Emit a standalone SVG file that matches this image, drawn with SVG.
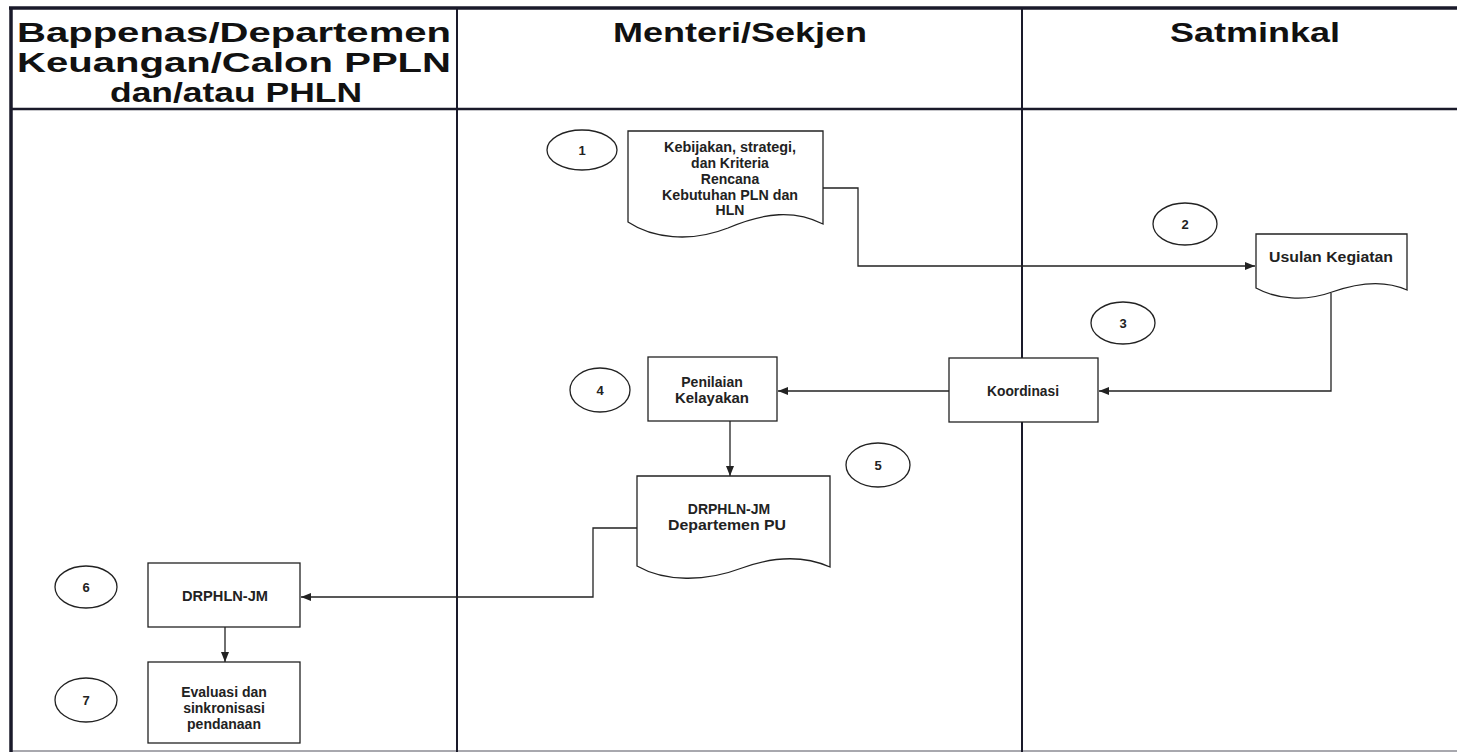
<svg xmlns="http://www.w3.org/2000/svg" width="1457" height="754" viewBox="0 0 1457 754">
<defs>
<style>
.frame{stroke:#1a1a2a;fill:none}
.shape{fill:#fff;stroke:#222;stroke-width:1.3}
.conn{fill:none;stroke:#222;stroke-width:1.3}
.hdr{font-family:"Liberation Sans",Arial,sans-serif;font-weight:bold;font-size:27px;fill:#111;text-anchor:middle}
.lbl{font-family:"Liberation Sans",Arial,sans-serif;font-weight:bold;font-size:14px;fill:#222;text-anchor:middle}
.num{font-family:"Liberation Sans",Arial,sans-serif;font-weight:bold;font-size:13px;fill:#222;text-anchor:middle}
</style>
<marker id="arr" viewBox="0 0 10 10" refX="10" refY="5" markerWidth="10" markerHeight="10" markerUnits="userSpaceOnUse" orient="auto">
<path d="M0,1 L10,5 L0,9 Z" fill="#222"/>
</marker>
</defs>
<rect width="1457" height="754" fill="#fff"/>
<g id="frame">
<line class="frame" x1="9" y1="8" x2="1457" y2="8" stroke-width="3.5"/>
<line class="frame" x1="11" y1="7" x2="11" y2="752" stroke-width="3.5"/>
<line class="frame" x1="10" y1="109" x2="1457" y2="109" stroke-width="2.5"/>
<line class="frame" x1="457" y1="8" x2="457" y2="752" stroke-width="2"/>
<line class="frame" x1="1022" y1="8" x2="1022" y2="752" stroke-width="2"/>
<line class="frame" x1="10" y1="751" x2="1457" y2="751" stroke-width="1.5" stroke-opacity="0.5"/>
<text class="hdr" x="234" y="42" textLength="434" lengthAdjust="spacingAndGlyphs">Bappenas/Departemen</text>
<text class="hdr" x="234" y="72" textLength="434" lengthAdjust="spacingAndGlyphs">Keuangan/Calon PPLN</text>
<text class="hdr" x="236" y="102" textLength="252" lengthAdjust="spacingAndGlyphs">dan/atau PHLN</text>
<text class="hdr" x="740" y="42" textLength="254" lengthAdjust="spacingAndGlyphs">Menteri/Sekjen</text>
<text class="hdr" x="1255" y="42" textLength="170" lengthAdjust="spacingAndGlyphs">Satminkal</text>
</g>
<g id="connectors">
<polyline class="conn" points="823,188 858,188 858,266 1255,266" marker-end="url(#arr)"/>
<polyline class="conn" points="1331,293 1331,391 1099,391" marker-end="url(#arr)"/>
<line class="conn" x1="949" y1="391" x2="778" y2="391" marker-end="url(#arr)"/>
<line class="conn" x1="730" y1="421" x2="730" y2="476" marker-end="url(#arr)"/>
<polyline class="conn" points="637,528 593,528 593,597 301,597" marker-end="url(#arr)"/>
<line class="conn" x1="225" y1="627" x2="225" y2="662" marker-end="url(#arr)"/>
</g>
<g id="e1"><ellipse class="shape" cx="582" cy="150" rx="35" ry="20"/><text class="num" x="582" y="155">1</text></g>
<g id="n1">
<path class="shape" d="M628,131 H823 V224 C795,210 765,212 728,228 C690,243 652,238 628,222 Z"/>
<text class="lbl" x="730" y="152" textLength="132" lengthAdjust="spacingAndGlyphs">Kebijakan, strategi,</text>
<text class="lbl" x="730" y="168">dan Kriteria</text>
<text class="lbl" x="730" y="184">Rencana</text>
<text class="lbl" x="730" y="200" textLength="136" lengthAdjust="spacingAndGlyphs">Kebutuhan PLN dan</text>
<text class="lbl" x="730" y="215">HLN</text>
</g>
<g id="e2"><ellipse class="shape" cx="1185" cy="224" rx="32" ry="21"/><text class="num" x="1185" y="229">2</text></g>
<g id="n2">
<path class="shape" d="M1256,234 H1407 V290 C1385,280 1360,282 1332,292 C1305,302 1276,299 1256,288 Z"/>
<text class="lbl" x="1331" y="262" textLength="124" lengthAdjust="spacingAndGlyphs">Usulan Kegiatan</text>
</g>
<g id="e3"><ellipse class="shape" cx="1123" cy="323" rx="32" ry="21"/><text class="num" x="1123" y="328">3</text></g>
<g id="n3">
<rect class="shape" x="949" y="358" width="149" height="64"/>
<text class="lbl" x="1023" y="396" textLength="72" lengthAdjust="spacingAndGlyphs">Koordinasi</text>
</g>
<g id="e4"><ellipse class="shape" cx="600" cy="390" rx="30" ry="22"/><text class="num" x="600" y="395">4</text></g>
<g id="n4">
<rect class="shape" x="648" y="357" width="129" height="64"/>
<text class="lbl" x="712" y="387">Penilaian</text>
<text class="lbl" x="712" y="403" textLength="74" lengthAdjust="spacingAndGlyphs">Kelayakan</text>
</g>
<g id="e5"><ellipse class="shape" cx="878" cy="465" rx="32" ry="22"/><text class="num" x="878" y="470">5</text></g>
<g id="n5">
<path class="shape" d="M637,476 H830 V567 C805,556 775,556 742,568 C705,582 665,582 637,566 Z"/>
<text class="lbl" x="729" y="514">DRPHLN-JM</text>
<text class="lbl" x="727" y="530" textLength="118" lengthAdjust="spacingAndGlyphs">Departemen PU</text>
</g>
<g id="e6"><ellipse class="shape" cx="86" cy="587" rx="31" ry="21"/><text class="num" x="86" y="592">6</text></g>
<g id="n6">
<rect class="shape" x="148" y="563" width="152" height="64"/>
<text class="lbl" x="225" y="601" textLength="86" lengthAdjust="spacingAndGlyphs">DRPHLN-JM</text>
</g>
<g id="e7"><ellipse class="shape" cx="86" cy="700" rx="31" ry="22"/><text class="num" x="86" y="705">7</text></g>
<g id="n7">
<rect class="shape" x="148" y="662" width="152" height="81"/>
<text class="lbl" x="224" y="697">Evaluasi dan</text>
<text class="lbl" x="224" y="713">sinkronisasi</text>
<text class="lbl" x="224" y="729">pendanaan</text>
</g>
</svg>
